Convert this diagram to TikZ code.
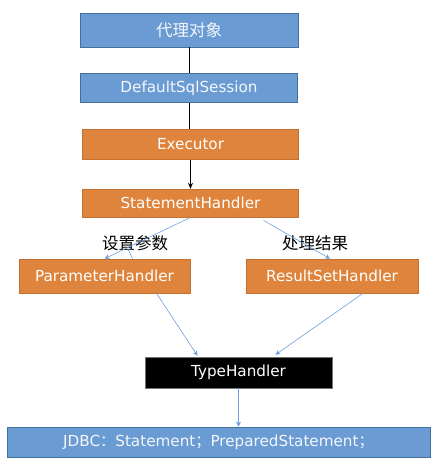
\documentclass[tikz,border=0pt]{standalone}
\usepackage{fontspec}
\setmainfont{DejaVu Sans}
\newfontfamily\cjk{Noto Sans CJK SC}
\usetikzlibrary{arrows.meta, positioning}
\definecolor{boxblue}{RGB}{106,155,211}
\definecolor{edgeblue}{RGB}{65,113,156}
\definecolor{boxorange}{RGB}{223,132,60}
\definecolor{edgeorange}{RGB}{196,112,48}
\definecolor{linkblue}{RGB}{110,160,218}

\begin{document}
\begin{tikzpicture}[
    x=1pt, y=-1pt,
    node distance=26pt and 56pt,
    bluebox/.style={rectangle, draw=edgeblue, fill=boxblue, text=white!92!boxblue,
                    font=\fontsize{15.2}{18}\selectfont, inner sep=0pt, line width=0.8pt},
    orangebox/.style={rectangle, draw=edgeorange, fill=boxorange, text=white,
                      font=\fontsize{15.2}{18}\selectfont, inner sep=0pt, line width=0.6pt},
    typebox/.style={rectangle, draw=black!55, fill=black, text=white,
                    font=\fontsize{15.2}{18}\selectfont, inner sep=0pt, line width=0.6pt},
    lbl/.style={font=\cjk\fontsize{16.5}{19}\selectfont, inner sep=0pt},
    flow/.style={draw=black, line width=1pt},
    arr/.style={-{Stealth[length=6pt, width=5pt]}, draw=black, line width=1pt},
    link/.style={-{Stealth[length=5pt, width=5pt]}, draw=linkblue, line width=0.6pt}
]
\useasboundingbox (0,0) rectangle (440,466);

\node[bluebox, minimum width=218pt, minimum height=34pt] (proxy) at (189,30) {\cjk\fontsize{16.5}{19}\selectfont 代理对象};
\node[bluebox, minimum width=217pt, minimum height=29pt, below=26pt of proxy] (sess) {DefaultSqlSession};
\node[orangebox, minimum width=216pt, minimum height=30pt, below=26pt of sess, xshift=1.5pt] (exec) {Executor};
\node[orangebox, minimum width=216pt, minimum height=28pt, below=29pt of exec] (stmt) {StatementHandler};

\node[orangebox, minimum width=171pt, minimum height=34pt] (param)  at (104.5,276) {ParameterHandler};
\node[orangebox, minimum width=172pt, minimum height=34pt] (result) at (332,276) {ResultSetHandler};
\node[typebox, minimum width=187pt, minimum height=31pt] (type) at (238.5,372.5) {TypeHandler};
\node[bluebox, minimum width=423pt, minimum height=30pt] (jdbc) at (218.5,442)
    {JDBC{\cjk ：}Statement{\cjk ；}PreparedStatement{\cjk ；}};

\node[lbl] (setp) at (135,243) {设置参数};
\node[lbl] (hres) at (315,243) {处理结果};
\coordinate (tick) at (128,249);

\draw[flow] (proxy) -- (proxy |- sess.north);
\draw[flow] (sess) -- (sess |- exec.north);
\draw[arr] (exec) -- (stmt);

\draw[link] (stmt.south) -- (param.north);
\draw[link] ([xshift=73pt, yshift=-3pt]stmt.south) -- ([xshift=-2pt]result.north);
\draw[draw=linkblue, line width=0.6pt] (tick) -- ([xshift=28pt]param.north);

\draw[link] ([xshift=52pt]param.south) -- ([xshift=-41pt, yshift=1pt]type.north);
\draw[link] ([xshift=31pt]result.south) -- ([xshift=37pt, yshift=2pt]type.north);
\draw[link] (type.south) -- (type.south |- jdbc.north);
\end{tikzpicture}
\end{document}
